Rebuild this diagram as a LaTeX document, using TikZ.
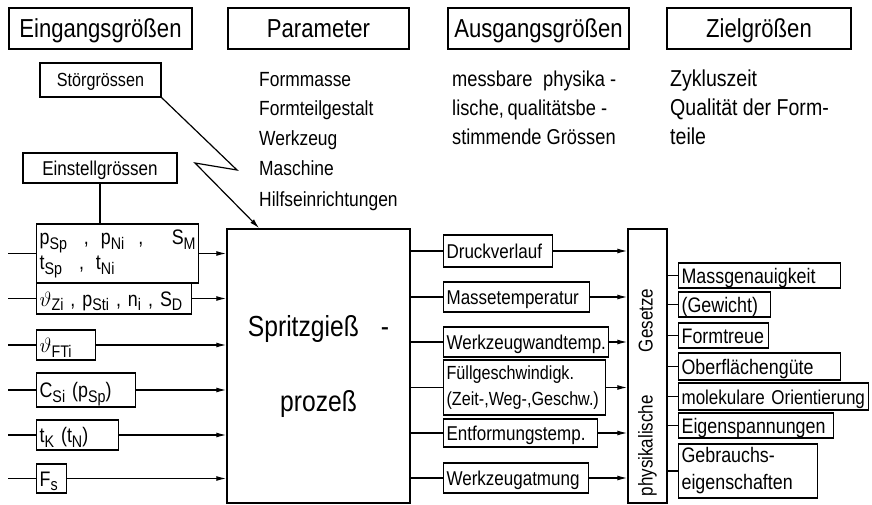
\documentclass[tikz,border=0pt]{standalone}
\usepackage{fontspec}
\setmainfont{Liberation Sans}[FakeStretch=0.85]
\usepackage{graphicx}
\usetikzlibrary{arrows.meta,positioning,calc}
\newcommand{\ix}[1]{\raisebox{-0.45ex}{\scalebox{0.8}{#1}}}
\tikzset{
  linie/.style={line width=1.2pt},
  pfeil/.style={-{Latex[length=10pt,width=5pt]},line width=1.2pt},
  kopf/.style={draw,linie,minimum height=41pt,inner sep=0pt,
    font=\fontsize{26}{28}\selectfont,text height=18.6pt,text depth=0pt},
  kasten/.style={draw,linie,anchor=west,inner xsep=3pt,inner ysep=0pt,align=left},
  ebox/.style={kasten,font=\fontsize{21}{25}\selectfont,text height=15pt,text depth=0pt},
  abox/.style={kasten,font=\fontsize{20}{26}\selectfont,text height=14.3pt,text depth=0pt},
  zbox/.style={kasten,font=\fontsize{21}{26}\selectfont,text height=15pt,text depth=0pt},
  liste/.style={anchor=base west,inner sep=0pt,font=\fontsize{20.5}{22}\selectfont}
}
\begin{document}
\begin{tikzpicture}[x=1pt,y=-1pt]
\useasboundingbox (0,0) rectangle (872,505);
% Kopfzeile
\node[kopf,minimum width=183pt] (ein) at (100.5,28.5) {Eingangsgrößen};
\node[kopf,minimum width=181pt] (par) at (318.5,28.5) {Parameter};
\node[kopf,minimum width=181pt] (aus) at (538.5,28.5) {Ausgangsgrößen};
\node[kopf,minimum width=184pt] (ziel) at (759,28.5) {Zielgrößen};
% Stoer- und Einstellgroessen
\node[draw,linie,minimum width=121pt,minimum height=34pt,inner sep=0pt,
  font=\fontsize{19}{22}\selectfont,text height=13.6pt,text depth=0pt] (stoer) at (100.5,80) {Störgrössen};
\node[draw,linie,minimum width=154pt,minimum height=30pt,inner sep=0pt,
  font=\fontsize{20}{22}\selectfont,text height=14.3pt,text depth=0pt] (einst) at (100,168) {Einstellgrössen};
% Parameter
\node[liste] (p1) at (259,87) {Formmasse};
\node[liste] (p2) at (259,116) {Formteilgestalt};
\node[liste] (p3) at (259,146) {Werkzeug};
\node[liste] (p4) at (259,176) {Maschine};
\node[liste] (p5) at (259,206) {Hilfseinrichtungen};
\node[liste,font=\fontsize{21.5}{24}\selectfont] (m1) at (452,87) {messbare\enspace physika -};
\node[liste,font=\fontsize{21.5}{24}\selectfont] (m2) at (452,116) {lische,\,qualitätsbe -};
\node[liste,font=\fontsize{21.5}{24}\selectfont] (m3) at (452,145) {stimmende Grössen};
\node[liste,font=\fontsize{23}{24}\selectfont] (q1) at (670,87) {Zykluszeit};
\node[liste,font=\fontsize{23}{24}\selectfont] (q2) at (670,116) {Qualität der Form-};
\node[liste,font=\fontsize{23}{24}\selectfont] (q3) at (670,145) {teile};
% Eingaenge
\node[kasten,font=\fontsize{21}{25}\selectfont,text width=156pt,minimum height=59pt] (e1) at (36,253.5)
  {p\ix{Sp}\hspace{17pt},\hspace{12pt}p\ix{Ni}\hspace{14pt},\hfill S\ix{M}\\
   t\ix{Sp}\hspace{17pt},\hspace{12pt}t\ix{Ni}};
\node[ebox,text width=149pt,minimum height=31pt] (e2) at (36,298.5)
  {$\vartheta$\ix{Zi} , p\ix{Sti} , n\ix{i} , S\ix{D}};
\node[ebox,text width=53pt,minimum height=30pt] (e3) at (36,345) {$\vartheta$\ix{FTi}};
\node[ebox,text width=93pt,minimum height=34pt] (e4) at (36,390) {C\ix{Si} (p\ix{Sp})};
\node[ebox,text width=76pt,minimum height=30pt] (e5) at (36,435) {t\ix{K} (t\ix{N})};
\node[ebox,text width=24pt,minimum height=29pt] (e6) at (36,478.5) {F\ix{s}};
\coordinate (rand) at (8,0);
% Prozess
\node[draw,line width=1.5pt,minimum width=183pt,minimum height=274pt,align=center,
  font=\fontsize{29}{75}\selectfont] (proz) at (318.5,366) {Spritzgieß\hspace{22pt}-\\prozeß};
% Ausgaenge
\node[abox,text width=103pt,minimum height=32pt] (a1) at (443,251) {Druckverlauf};
\node[abox,text width=140pt,minimum height=30pt] (a2) at (443,297) {Massetemperatur};
\node[abox,text width=159pt,minimum height=30pt] (a3) at (443,342) {Werkzeugwandtemp.};
\node[kasten,font=\fontsize{19}{26}\selectfont,text width=156pt,minimum height=55pt] (a4) at (443,387.5)
  {Füllgeschwindigk.\\(Zeit-,Weg-,Geschw.)};
\node[abox,text width=148pt,minimum height=28pt] (a5) at (443,433) {Entformungstemp.};
\node[abox,text width=139pt,minimum height=30pt] (a6) at (443,478) {Werkzeugatmung};
% Gesetze (gedreht: north = linke Seite, south = rechte Seite)
\node[draw,line width=1.5pt,rotate=90,minimum width=274pt,minimum height=39pt,inner sep=0pt,
  font=\fontsize{20}{22}\selectfont] (ges) at (647.5,366) {physikalische\hspace{43pt}Gesetze\hspace*{53pt}};
% Zielgroessen
\node[zbox,text width=156pt,minimum height=25pt] (z1) at (678,275.5) {Massgenauigkeit};
\node[zbox,text width=86pt,minimum height=25pt] (z2) at (678,304.5) {(Gewicht)};
\node[zbox,text width=84pt,minimum height=25pt] (z3) at (678,335.5) {Formtreue};
\node[zbox,text width=156pt,minimum height=27pt] (z4) at (678,366.5) {Oberflächengüte};
\node[zbox,text width=184pt,minimum height=27pt,font=\fontsize{20}{24}\selectfont] (z5) at (678,396.5) {molekulare Orientierung};
\node[zbox,text width=149pt,minimum height=25pt] (z6) at (678,425.5) {Eigenspannungen};
\node[kasten,font=\fontsize{21}{27}\selectfont,text width=133pt,minimum height=54pt] (z7) at (678,471)
  {Gebrauchs-\\eigenschaften};
% Verbindungen
\coordinate (knick1) at (237,170);
\coordinate (knick2) at (195,163);
\draw[pfeil] (stoer.south east) -- (knick1) -- (knick2) -- ([xshift=33pt]proz.north west);
\draw[linie] (einst.south) -- (einst.south |- e1.north);
\draw[linie] (rand |- e1.west) -- (e1.west);
\draw[linie] (rand |- e2.west) -- (e2.west);
\draw[linie] (rand |- e3.west) -- (e3.west);
\draw[linie] (rand |- e4.west) -- (e4.west);
\draw[linie] (rand |- e5.west) -- (e5.west);
\draw[linie] (rand |- e6.west) -- (e6.west);
\draw[pfeil] (e1.east) -- (e1.east -| proz.west);
\draw[pfeil] (e2.east) -- (e2.east -| proz.west);
\draw[pfeil] (e3.east) -- (e3.east -| proz.west);
\draw[pfeil] (e4.east) -- (e4.east -| proz.west);
\draw[pfeil] (e5.east) -- (e5.east -| proz.west);
\draw[pfeil] (e6.east) -- (e6.east -| proz.west);
\draw[linie] (proz.east |- a1.west) -- (a1.west);
\draw[linie] (proz.east |- a2.west) -- (a2.west);
\draw[linie] (proz.east |- a3.west) -- (a3.west);
\draw[linie] (proz.east |- a4.west) -- (a4.west);
\draw[linie] (proz.east |- a5.west) -- (a5.west);
\draw[linie] (proz.east |- a6.west) -- (a6.west);
\draw[pfeil] (a1.east) -- (a1.east -| ges.north);
\draw[pfeil] (a2.east) -- (a2.east -| ges.north);
\draw[pfeil] (a3.east) -- (a3.east -| ges.north);
\draw[pfeil] (a4.east) -- (a4.east -| ges.north);
\draw[pfeil] (a5.east) -- (a5.east -| ges.north);
\draw[pfeil] (a6.east) -- (a6.east -| ges.north);
\draw[linie] (ges.south |- z1.west) -- (z1.west);
\draw[linie] (ges.south |- z2.west) -- (z2.west);
\draw[linie] (ges.south |- z3.west) -- (z3.west);
\draw[linie] (ges.south |- z4.west) -- (z4.west);
\draw[linie] (ges.south |- z5.west) -- (z5.west);
\draw[linie] (ges.south |- z6.west) -- (z6.west);
\draw[linie] (ges.south |- z7.west) -- (z7.west);
\end{tikzpicture}
\end{document}
